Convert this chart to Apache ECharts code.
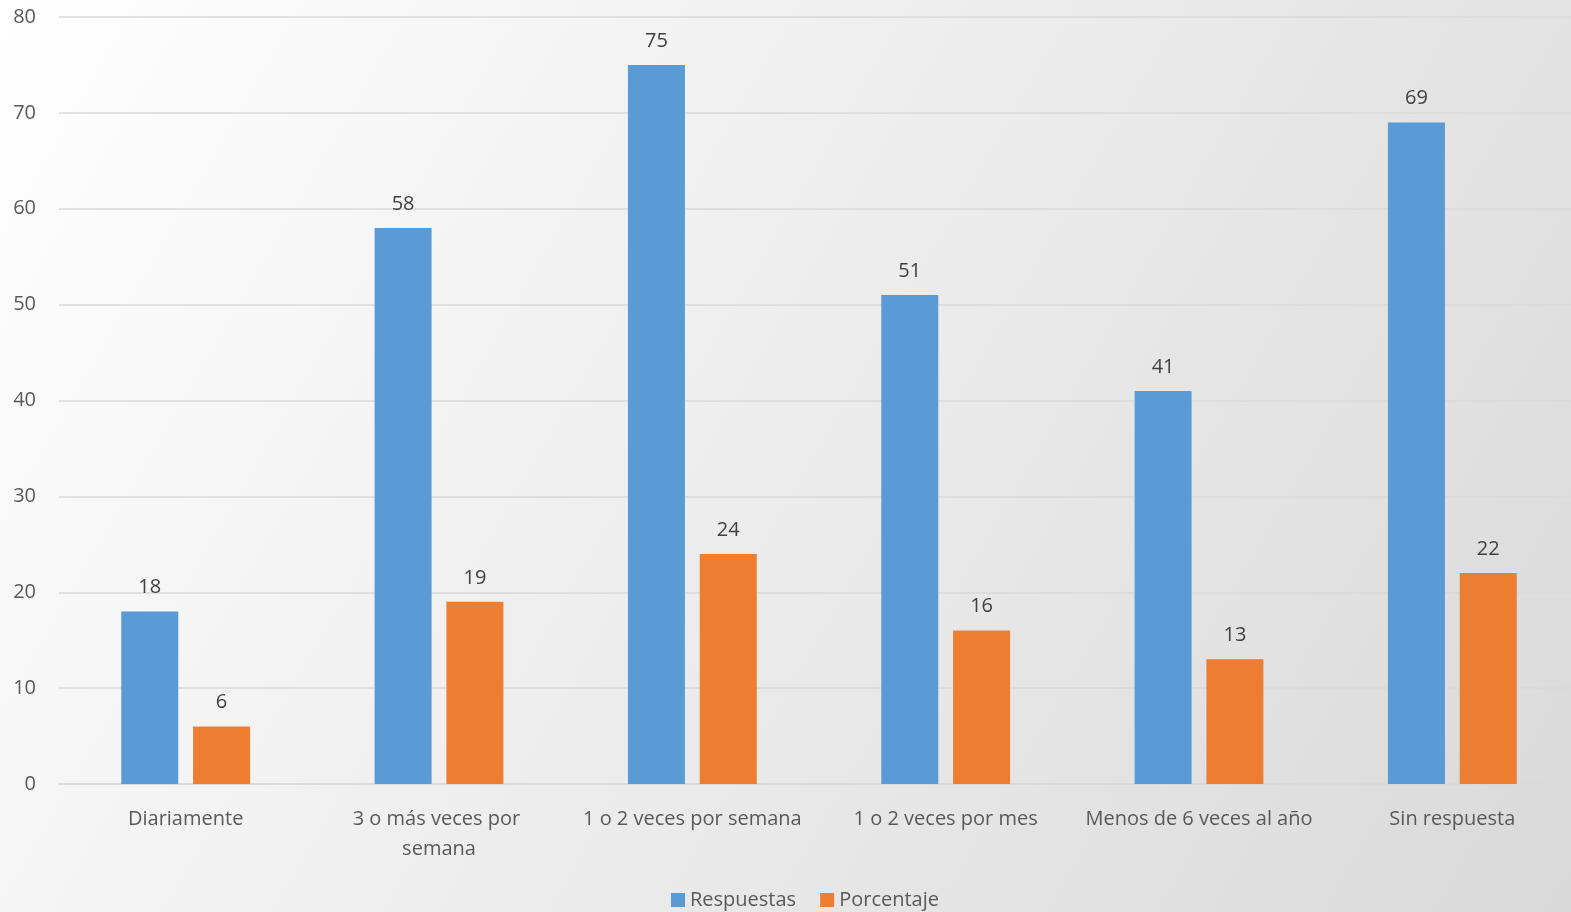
<!DOCTYPE html>
<html>
<head>
<meta charset="utf-8">
<script src="https://cdn.jsdelivr.net/npm/echarts@6/dist/echarts.min.js"></script>
<style>html,body{margin:0;padding:0;}#c{width:1571px;height:912px;}</style>
</head>
<body>
<div id="c"></div>
<script>
const categories = ["Diariamente", "3 o más veces por semana", "1 o 2 veces por semana", "1 o 2 veces por mes", "Menos de 6 veces al año", "Sin respuesta"];
const respuestas = [18, 58, 75, 51, 41, 69];
const porcentaje = [6, 19, 24, 16, 13, 22];
const yTicks = { min: 0, max: 80, interval: 10 };

const FONT = "'Open Sans', 'Noto Sans', sans-serif";
const TXT = '#595959';
const chart = echarts.init(document.getElementById('c'));
chart.setOption({
  backgroundColor: {
    type: 'linear', x: 0, y: 0, x2: 1, y2: 1,
    colorStops: [{ offset: 0, color: '#ffffff' }, { offset: 1, color: '#d9d9d9' }]
  },
  textStyle: { fontFamily: FONT },
  grid: { left: 59, width: 1520, top: 17, bottom: 128, containLabel: false, outerBoundsMode: 'none' },
  legend: {
    bottom: -3, left: 666, itemWidth: 14, itemHeight: 14, itemGap: 24,
    icon: 'rect',
    textStyle: { fontSize: 20, color: TXT, fontFamily: FONT }
  },
  xAxis: {
    type: 'category', data: categories,
    axisLine: { lineStyle: { color: '#d9d9d9', width: 1.5 } },
    axisTick: { show: false },
    axisLabel: { interval: 0, fontSize: 20, color: TXT, margin: 20, width: 240, overflow: 'break', lineHeight: 30, fontFamily: FONT }
  },
  yAxis: {
    type: 'value', min: yTicks.min, max: yTicks.max, interval: yTicks.interval,
    axisLine: { show: false }, axisTick: { show: false },
    splitLine: { lineStyle: { color: '#d9d9d9', width: 1.5 } },
    axisLabel: { fontSize: 20, color: TXT, margin: 23, fontFamily: FONT }
  },
  series: [
    { name: 'Respuestas', type: 'bar', data: respuestas, barWidth: 57, barGap: '26%',
      itemStyle: { color: '#5B9BD5' },
      label: { show: true, position: 'top', distance: 14, fontSize: 20, color: '#404040', fontFamily: FONT } },
    { name: 'Porcentaje', type: 'bar', data: porcentaje, barWidth: 57,
      itemStyle: { color: '#ED7D31' },
      label: { show: true, position: 'top', distance: 14, fontSize: 20, color: '#404040', fontFamily: FONT } }
  ]
});
</script>
</body>
</html>
